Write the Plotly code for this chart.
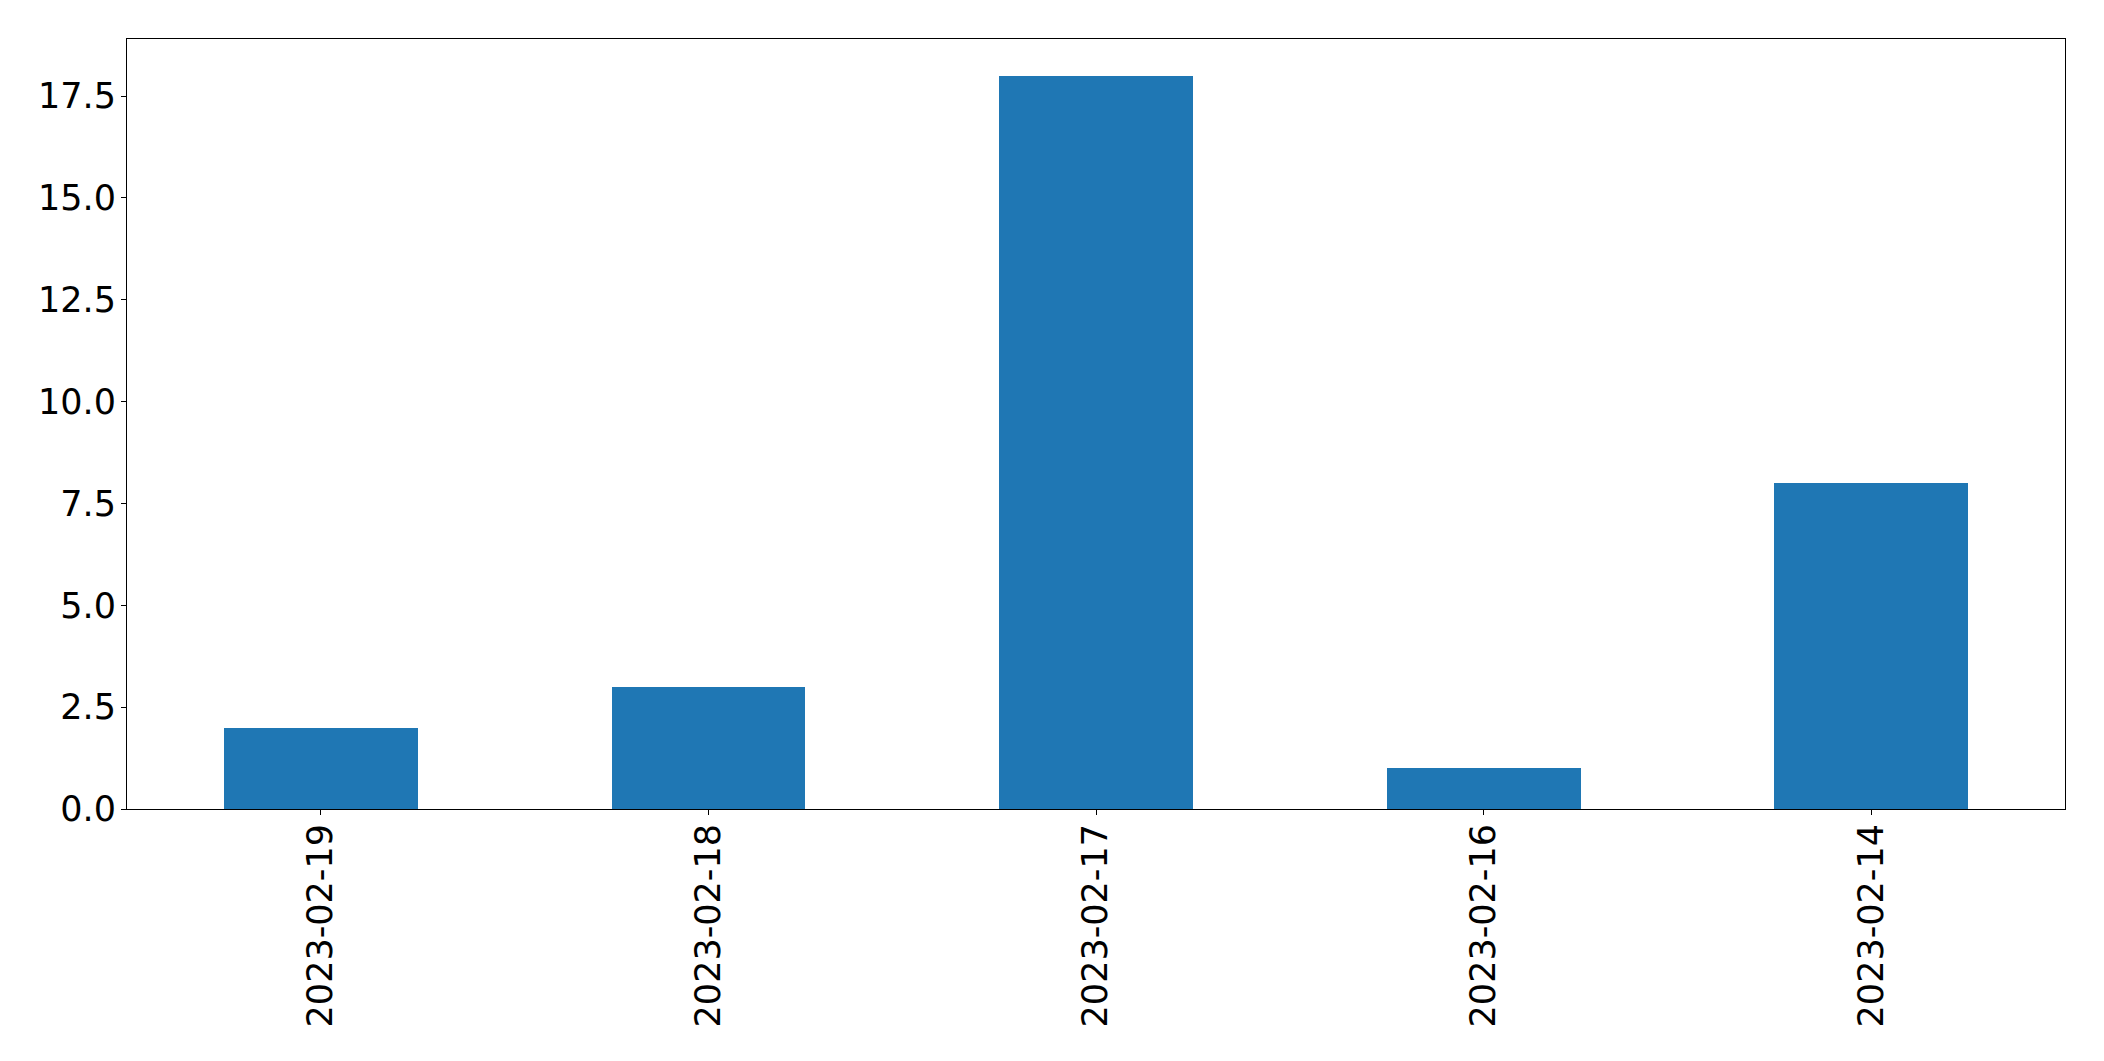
import plotly.graph_objects as go

categories = ["2023-02-19", "2023-02-18", "2023-02-17", "2023-02-16", "2023-02-14"]
values = [2, 3, 18, 1, 8]
y_ticks = [0, 2.5, 5, 7.5, 10, 12.5, 15, 17.5]

fig = go.Figure(
    go.Bar(x=categories, y=values, marker=dict(color="#1f77b4", line=dict(width=0)), width=0.5)
)

# page body has an 8px default margin; plot area targets page coords x 127..2065, y 39..809
fig.update_layout(
    width=2088, height=1045,
    margin=dict(l=119, r=31, t=31, b=244, autoexpand=False),
    paper_bgcolor="white", plot_bgcolor="white",
    font=dict(family="DejaVu Sans", size=35, color="black"),
    showlegend=False,
    bargap=0,
)
fig.update_xaxes(
    type="category", range=[-0.5, 4.5],
    showline=True, linecolor="black", linewidth=1, mirror=True,
    ticks="outside", ticklen=5, tickwidth=1, tickcolor="black",
    tickangle=-90, showgrid=False, zeroline=False, ticklabelstandoff=-5,
    tickfont=dict(family="DejaVu Sans", size=35, color="black"),
)
fig.update_yaxes(
    range=[0, 18.9], tickvals=y_ticks, tickformat=".1f",
    showline=True, linecolor="black", linewidth=1, mirror=True,
    ticks="outside", ticklen=5, tickwidth=1, tickcolor="black",
    showgrid=False, zeroline=False, ticklabelstandoff=-2,
    tickfont=dict(family="DejaVu Sans", size=35, color="black"),
)

fig.write_html("out.html")
